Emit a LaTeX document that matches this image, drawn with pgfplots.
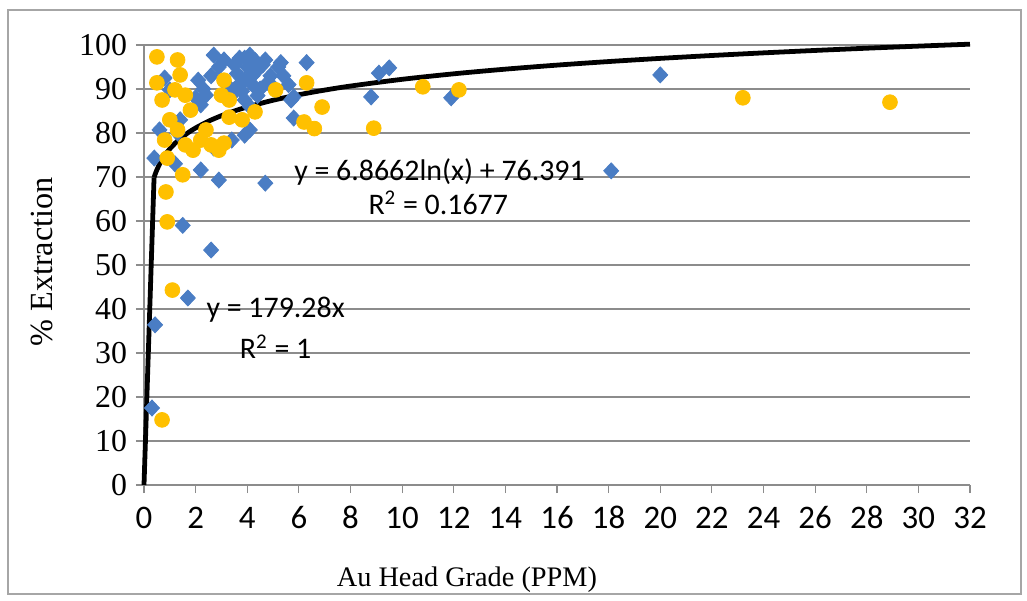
\documentclass[border=0pt]{standalone}
\usepackage{pgfplots}
\pgfplotsset{compat=1.18}
\usepackage{graphicx}
\usepackage{fontspec}
\setmainfont{Liberation Serif}
\newfontfamily\calibri{Carlito}
\definecolor{cblue}{HTML}{4A7DC4}
\definecolor{cgold}{HTML}{FFC000}
\definecolor{cgrid}{HTML}{8C8C8C}

\begin{document}
\begin{tikzpicture}
% page and outer chart frame (1px = 0.5bp)
\path (-72bp,-58bp) rectangle (441.5bp,242.5bp);
\draw[color=gray!70,line width=1bp] (-68bp,-54.5bp) rectangle (438.5bp,237.5bp);
\begin{axis}[scale only axis,width=413bp,height=220bp,
  xmin=0,xmax=32,ymin=0,ymax=100,
  xtick={0,2,...,32},ytick={0,10,...,100},
  axis x line*=bottom,axis y line*=left,
  axis line style={cgrid,line width=0.6pt,-},
  tick style={cgrid,line width=0.6pt},tick align=outside,
  major tick length=4bp,
  ymajorgrids,grid style={cgrid,line width=0.6pt},
  /pgf/number format/assume math mode=true,
  xticklabel style={font=\calibri\fontsize{16.5}{18}\selectfont,text height=11bp,text depth=0bp,yshift=-3bp},
  yticklabel style={font=\fontsize{16}{18}\selectfont,xshift=-1bp},
  xlabel={Au Head Grade (PPM)},
  xlabel style={font=\fontsize{14.2}{16}\selectfont,at={(axis description cs:0.391,0)},anchor=center,yshift=-47.5bp},
  ylabel={\% Extraction},
  ylabel style={font=\fontsize{16.2}{18}\selectfont,at={(axis description cs:0,0.507)},anchor=center,yshift=51bp},
  clip=false]
% blue diamonds
\addplot[only marks,mark=diamond*,mark size=4bp,mark options={xscale=1.25},color=cblue] coordinates {
(0.31,17.5)(0.43,36.4)(1.7,42.5)(1.5,59)(2.6,53.4)(0.4,74.3)(0.6,80.7)
(1.2,73)(2.2,71.6)(2.9,69.3)(4.7,68.6)(1.3,80)(2.7,97.7)(3.1,96.6)
(2.6,93)(2.1,92)(2.4,88.6)(2.2,86.4)(3.9,92)(4.2,91)(3.9,87.5)(4.4,94.3)
(4.7,96.6)(4.9,93)(5.3,96)(5.4,93)(6.3,96)(4.1,97.7)(3.7,97)(3.9,79.5)
(4.1,80.7)(3.4,78.4)(2.7,76.6)(3.4,88.6)(5.7,87.5)(5.8,83.4)(1.4,83)
(1.0,89.8)(0.8,92.5)(5.8,88.2)(3.6,93.5)(4.5,90)(3.2,91)(4.0,95)(5.0,90.5)
(2.3,90)(2.0,88)(3.8,89.5)(4.2,93)(4.4,88.5)(4.8,91.5)(3.5,95.5)(4.1,86)
(5.2,95)(5.6,91)(2.9,95)(4.6,95.5)(3.9,97)(4.3,96.5)(3.6,90.5)
(8.8,88.2)(9.1,93.6)(9.5,94.8)(11.9,88)(20,93.2)(18.1,71.4)};
% gold circles
\addplot[only marks,mark=*,mark size=3.7bp,color=cgold] coordinates {
(0.7,14.8)(1.1,44.3)(0.9,59.8)(0.85,66.6)(0.5,97.3)(0.5,91.4)(0.7,87.5)
(1.3,96.6)(1.4,93.2)(1.2,89.8)(1.6,88.6)(1.8,85.2)(1.0,83)(1.3,80.7)
(0.8,78.4)(0.9,74.3)(1.5,70.5)(1.6,77.3)(1.9,76.1)(2.2,78.4)(2.6,77.3)
(2.9,76.1)(3.1,77.7)(2.4,80.7)(3.1,92)(3.0,88.6)(3.3,87.5)(3.3,83.6)
(3.8,83)(4.3,84.8)(5.1,89.8)(6.3,91.4)(6.9,85.9)(6.2,82.5)(6.6,81)
(8.9,81.1)(10.8,90.5)(12.2,89.8)(23.2,88)(28.9,87)};
% linear trend y = 179.28x
\addplot[black,line width=2.4pt] coordinates {(0,0)(0.39,69.92)};
% log trend y = 6.8662 ln(x) + 76.391
\addplot[black,line width=2.4pt,smooth] coordinates {
(0.39,69.926)(0.42,70.435)(0.46,71.059)(0.5,71.632)(0.55,72.286)(0.6,72.884)
(0.7,73.942)(0.8,74.859)(0.9,75.668)(1,76.391)(1.2,77.643)(1.4,78.701)
(1.7,80.034)(2,81.150)(2.5,82.682)(3,83.934)(3.5,84.993)(4,85.910)
(5,87.442)(6,88.694)(7,89.752)(8,90.669)(10,92.201)(12,93.453)(14,94.511)
(16,95.428)(18,96.237)(20,96.960)(22,97.615)(24,98.212)(26,98.762)
(28,99.271)(30,99.745)(32,100.188)};
\node[font=\calibri\fontsize{15}{17}\selectfont] at (axis cs:11.45,71.1) {y = 6.8662ln(x) + 76.391};
\node[font=\calibri\fontsize{15}{17}\selectfont] at (axis cs:11.4,64.1) {R\textsuperscript{2} = 0.1677};
\node[font=\calibri\fontsize{15}{17}\selectfont] at (axis cs:5.1,39.8) {y = 179.28x};
\node[font=\calibri\fontsize{15}{17}\selectfont] at (axis cs:5.1,31.4) {R\textsuperscript{2} = 1};
\end{axis}
\end{tikzpicture}
\end{document}
